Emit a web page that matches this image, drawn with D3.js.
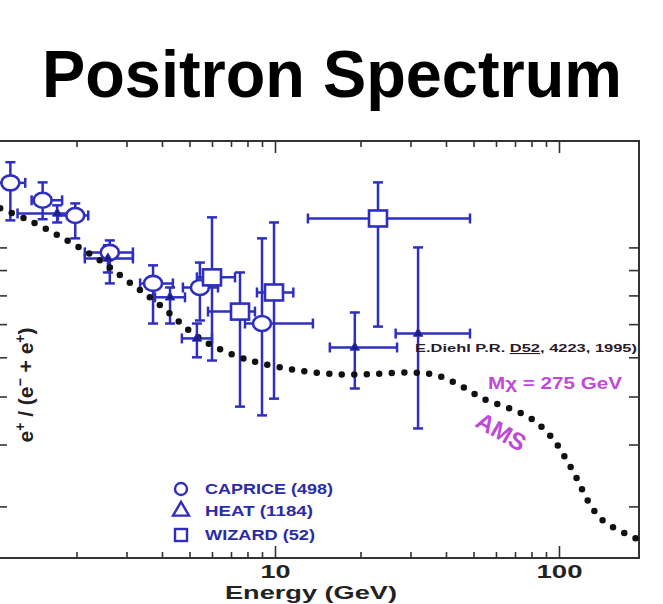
<!DOCTYPE html>
<html>
<head>
<meta charset="utf-8">
<script src="https://cdn.jsdelivr.net/npm/d3@7"></script>
<style>
  body { margin: 0; background: #fff; }
  text { font-family: "Liberation Sans", Arial, sans-serif; }
</style>
</head>
<body>
<svg id="chart" width="663" height="604"></svg>
<script>
// CAPRICE (circles)
const capriceE = [1.17, 1.52, 1.98, 2.62, 3.72, 5.44, 9.0];
const capriceElo = [1.04, 1.39, 1.72, 2.14, 3.35, 4.74, 7.84];
const capriceEhi = [1.32, 1.78, 2.2, 3.16, 4.37, 6.3, 13.6];
const capriceF = [0.135, 0.1245, 0.116, 0.0977, 0.0846, 0.083, 0.0702];
const capriceFlo = [0.1134, 0.114, 0.1043, 0.0846, 0.0702, 0.0712, 0.0458];
const capriceFhi = [0.1486, 0.1353, 0.1227, 0.1033, 0.092, 0.0932, 0.1043];

// HEAT (triangles)
const heatE = [1.71, 2.58, 4.27, 5.31, 19.1, 31.9];
const heatElo = [1.24, 2.14, 3.78, 4.7, 15.6, 26.6];
const heatEhi = [1.98, 3.16, 4.82, 6.0, 26.9, 48.6];
const heatF = [0.1171, 0.095, 0.0793, 0.0655, 0.0628, 0.067];
const heatFlo = [0.1123, 0.089, 0.0702, 0.06, 0.0519, 0.0431];
const heatFhi = [0.1216, 0.101, 0.083, 0.0702, 0.0739, 0.1];

// WIZARD (squares)
const wizardE = [6.0, 7.53, 9.92, 23.05];
const wizardElo = [5.31, 5.81, 8.64, 13.06];
const wizardEhi = [7.23, 8.5, 11.6, 48.6];
const wizardF = [0.087, 0.0742, 0.0811, 0.1144];
const wizardFlo = [0.0591, 0.0477, 0.0495, 0.0692];
const wizardFhi = [0.115, 0.089, 0.1123, 0.1353];

// Diehl et al. prediction, M_chi = 275 GeV
const modelE = [1.077, 1.36, 1.778, 2.36, 3.04, 3.94, 5.44, 7.23, 9.0, 12.25, 17.2, 23.4,
  30.6, 37.5, 45.5, 54.8, 67.1, 80.9, 94.4, 105, 115.7, 126.4, 141.6, 172, 188];
const modelF = [0.1199, 0.1134, 0.1047, 0.095, 0.0854, 0.0764, 0.0655, 0.0605, 0.0583, 0.0564,
  0.0554, 0.0556, 0.0559, 0.0551, 0.0524, 0.0493, 0.0473, 0.0449, 0.0413, 0.0377, 0.0341,
  0.0308, 0.0282, 0.0264, 0.0258];

const xMajor = [10, 100];
const xMinor = [2, 3, 4, 5, 6, 7, 8, 9, 20, 30, 40, 50, 60, 70, 80, 90];
const yTicks = [0.03, 0.04, 0.05, 0.06, 0.07, 0.08, 0.09, 0.1];

const legendNames = ['CAPRICE (498)', 'HEAT (1184)', 'WIZARD (52)'];

const blue = '#2e2fbf';
const svg = d3.select('#chart');

const x = d3.scaleLog().domain([1.067, 191.3]).range([-1, 639]);
const y = d3.scaleLog().domain([0.0236, 0.164]).range([558, 141]);

const rows = (E, Elo, Ehi, F, Flo, Fhi) =>
  E.map((e, i) => ({ e, elo: Elo[i], ehi: Ehi[i], f: F[i], flo: Flo[i], fhi: Fhi[i] }));

const caprice = rows(capriceE, capriceElo, capriceEhi, capriceF, capriceFlo, capriceFhi);
const heat = rows(heatE, heatElo, heatEhi, heatF, heatFlo, heatFhi);
const wizard = rows(wizardE, wizardElo, wizardEhi, wizardF, wizardFlo, wizardFhi);

// title
svg.append('text')
  .attr('x', 332).attr('y', 97)
  .attr('text-anchor', 'middle')
  .style('font-size', '66px').style('font-weight', 'bold')
  .attr('fill', '#000')
  .attr('textLength', 580).attr('lengthAdjust', 'spacingAndGlyphs')
  .text('Positron Spectrum');

// axes (ticks pointing inward)
const axisG = svg.append('g').attr('class', 'axes');
function tickAxis(axisFn, scale, vals, size, transform, labels) {
  const a = axisFn(scale).tickValues(vals).tickSizeInner(-size).tickSizeOuter(0)
    .tickPadding(7).tickFormat(labels ? d3.format('d') : '');
  const g = axisG.append('g').attr('transform', transform).call(a);
  g.select('.domain').remove();
  g.selectAll('line').attr('stroke', '#333').attr('stroke-width', 1.6);
  g.selectAll('text').style('font-size', '19px').style('font-weight', 'bold')
    .attr('fill', '#222').attr('font-family', null)
    .attr('textLength', (d) => (d >= 100 ? 46 : 30))
    .attr('lengthAdjust', 'spacingAndGlyphs');
  return g;
}
tickAxis(d3.axisBottom, x, xMajor, 12, `translate(0,${y.range()[0]})`, true);
tickAxis(d3.axisBottom, x, xMinor, 6, `translate(0,${y.range()[0]})`, false);
tickAxis(d3.axisTop, x, xMajor, 12, `translate(0,${y.range()[1]})`, false);
tickAxis(d3.axisTop, x, xMinor, 6, `translate(0,${y.range()[1]})`, false);
tickAxis(d3.axisLeft, y, yTicks, 8, `translate(${x.range()[0]},0)`, false);
tickAxis(d3.axisRight, y, yTicks, 10, `translate(${x.range()[1]},0)`, false);

axisG.append('rect')
  .attr('x', x.range()[0]).attr('y', y.range()[1])
  .attr('width', x.range()[1] - x.range()[0])
  .attr('height', y.range()[0] - y.range()[1])
  .attr('fill', 'none').attr('stroke', '#333').attr('stroke-width', 2);

// axis titles
svg.append('text')
  .attr('x', 311).attr('y', 599)
  .attr('text-anchor', 'middle')
  .style('font-size', '19px').style('font-weight', 'bold')
  .attr('fill', '#222')
  .attr('textLength', 172).attr('lengthAdjust', 'spacingAndGlyphs')
  .text('Energy (GeV)');

const yl = svg.append('text')
  .attr('transform', 'translate(33,385) rotate(-90)')
  .attr('text-anchor', 'middle')
  .style('font-size', '21px').style('font-weight', 'bold')
  .attr('fill', '#222');
yl.append('tspan').text('e');
yl.append('tspan').attr('dy', -8).style('font-size', '14px').text('+');
yl.append('tspan').attr('dy', 8).text(' / (e');
yl.append('tspan').attr('dy', -8).style('font-size', '14px').text('\u2212');
yl.append('tspan').attr('dy', 8).text(' + e');
yl.append('tspan').attr('dy', -8).style('font-size', '14px').text('+');
yl.append('tspan').attr('dy', 8).text(')');

// error bars
const errG = svg.append('g').attr('class', 'errors')
  .attr('stroke', blue).attr('stroke-width', 2.5).attr('fill', 'none');
function errorBars(data) {
  const cap = 5;
  const g = errG.append('g');
  data.forEach((d) => {
    const cx = x(d.e), cy = y(d.f);
    const x0 = x(d.elo), x1 = x(d.ehi), y0 = y(d.flo), y1 = y(d.fhi);
    g.append('line').attr('x1', x0).attr('x2', x1).attr('y1', cy).attr('y2', cy);
    g.append('line').attr('x1', cx).attr('x2', cx).attr('y1', y0).attr('y2', y1);
    [x0, x1].forEach((v) => g.append('line').attr('x1', v).attr('x2', v)
      .attr('y1', cy - cap).attr('y2', cy + cap));
    [y0, y1].forEach((v) => g.append('line').attr('y1', v).attr('y2', v)
      .attr('x1', cx - cap).attr('x2', cx + cap));
  });
}
errorBars(caprice);
errorBars(heat);
errorBars(wizard);

// model curve, dotted
const line = d3.line().x((d) => x(d[0])).y((d) => y(d[1])).curve(d3.curveCatmullRom);
svg.append('path')
  .datum(modelE.map((e, i) => [e, modelF[i]]))
  .attr('d', line)
  .attr('fill', 'none')
  .attr('stroke', '#111')
  .attr('stroke-width', 6.5)
  .attr('stroke-linecap', 'round')
  .attr('stroke-dasharray', '0,12.5');

// markers
const mk = svg.append('g').attr('stroke', blue).attr('stroke-width', 2.6);
mk.selectAll('.cap').data(caprice).join('ellipse')
  .attr('class', 'cap')
  .attr('cx', (d) => x(d.e)).attr('cy', (d) => y(d.f))
  .attr('rx', 9).attr('ry', 7.5)
  .attr('fill', '#fff');
const tri = d3.symbol().type(d3.symbolTriangle).size(38);
mk.selectAll('.heat').data(heat).join('path')
  .attr('class', 'heat')
  .attr('transform', (d) => `translate(${x(d.e)},${y(d.f)})`)
  .attr('d', tri)
  .attr('fill', '#1d1d8a').attr('stroke-width', 1);
mk.selectAll('.wiz').data(wizard).join('rect')
  .attr('class', 'wiz')
  .attr('x', (d) => x(d.e) - 9).attr('y', (d) => y(d.f) - 8)
  .attr('width', 18).attr('height', 16)
  .attr('fill', '#fff');

// legend
const leg = svg.append('g').attr('transform', 'translate(181,489)');
const legWidths = [128, 108, 110];
legendNames.forEach((name, i) => {
  const row = leg.append('g').attr('transform', `translate(0,${[0, 22, 46][i]})`);
  if (i === 0) {
    row.append('circle').attr('r', 6);
  } else if (i === 1) {
    row.append('path').attr('d', d3.symbol().type(d3.symbolTriangle).size(110));
  } else {
    row.append('rect').attr('x', -6).attr('y', -6).attr('width', 12).attr('height', 12);
  }
  row.selectAll('circle,path,rect').attr('fill', 'none').attr('stroke', blue).attr('stroke-width', 2.4);
  row.append('text')
    .attr('x', 24).attr('y', 5)
    .style('font-size', '14px').style('font-weight', 'bold')
    .attr('fill', '#2b2ba6')
    .attr('textLength', legWidths[i]).attr('lengthAdjust', 'spacingAndGlyphs')
    .text(name);
});

// annotations
const ref = svg.append('text')
  .attr('x', 415).attr('y', 352)
  .style('font-size', '11px').style('font-weight', 'bold')
  .attr('fill', '#2a1b2a')
  .attr('textLength', 222).attr('lengthAdjust', 'spacingAndGlyphs');
ref.append('tspan').text('E.Diehl P.R. ');
ref.append('tspan').style('text-decoration', 'underline').text('D52');
ref.append('tspan').text(', 4223, 1995)');

svg.append('text')
  .attr('x', 488).attr('y', 389)
  .style('font-size', '17px').style('font-weight', 'bold')
  .attr('fill', '#c04ad8')
  .attr('textLength', 134).attr('lengthAdjust', 'spacingAndGlyphs')
  .text('M\u03c7 = 275 GeV');

svg.append('text')
  .attr('transform', 'translate(497,439) rotate(30)')
  .attr('text-anchor', 'middle')
  .style('font-size', '24px').style('font-weight', 'bold')
  .attr('fill', '#c04ad8')
  .text('AMS');
</script>
</body>
</html>
